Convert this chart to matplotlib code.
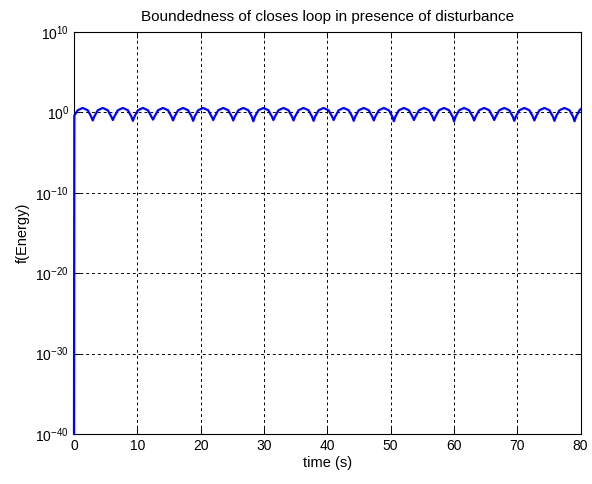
import matplotlib
matplotlib.use('Agg')
import matplotlib.pyplot as plt
import numpy as np
from matplotlib.ticker import FixedLocator, NullLocator, FuncFormatter

plt.rcParams['font.family'] = ['Liberation Sans', 'DejaVu Sans']
plt.rcParams['mathtext.fontset'] = 'custom'
plt.rcParams['mathtext.rm'] = 'Liberation Sans'

# sample times (s), one row per oscillation
time_s = [
    0.00, 0.05, 0.59, 1.37, 2.16, 2.71,
    2.96, 3.21, 3.76, 4.54, 5.33, 5.88,
    6.13, 6.38, 6.93, 7.71, 8.50, 9.05,
    9.30, 9.55, 10.10, 10.88, 11.67, 12.22,
    12.47, 12.72, 13.27, 14.05, 14.84, 15.39,
    15.64, 15.89, 16.44, 17.22, 18.01, 18.56,
    18.81, 19.06, 19.61, 20.39, 21.18, 21.73,
    21.98, 22.23, 22.78, 23.56, 24.35, 24.90,
    25.15, 25.40, 25.95, 26.73, 27.52, 28.07,
    28.32, 28.57, 29.12, 29.90, 30.69, 31.24,
    31.49, 31.74, 32.29, 33.07, 33.86, 34.41,
    34.66, 34.91, 35.46, 36.24, 37.03, 37.58,
    37.83, 38.08, 38.63, 39.41, 40.20, 40.75,
    41.00, 41.25, 41.80, 42.58, 43.37, 43.92,
    44.17, 44.42, 44.97, 45.75, 46.54, 47.09,
    47.34, 47.59, 48.14, 48.92, 49.71, 50.26,
    50.51, 50.76, 51.31, 52.09, 52.88, 53.43,
    53.68, 53.93, 54.48, 55.26, 56.05, 56.60,
    56.85, 57.10, 57.65, 58.43, 59.22, 59.77,
    60.02, 60.27, 60.82, 61.60, 62.39, 62.94,
    63.19, 63.44, 63.99, 64.77, 65.56, 66.11,
    66.36, 66.61, 67.16, 67.94, 68.73, 69.28,
    69.53, 69.78, 70.33, 71.11, 71.90, 72.45,
    72.70, 72.95, 73.50, 74.28, 75.07, 75.62,
    75.87, 76.12, 76.67, 77.45, 78.24, 78.79,
    79.04, 79.29, 79.84, 80.00,
]

# log10 of the energy function at those times
log_energy = [
    -40.0, -0.40, 0.27, 0.55, 0.27, -0.51,
    -1.00, -0.51, 0.27, 0.55, 0.27, -0.51,
    -0.95, -0.51, 0.27, 0.55, 0.27, -0.51,
    -1.05, -0.51, 0.27, 0.55, 0.27, -0.51,
    -0.90, -0.51, 0.27, 0.55, 0.27, -0.51,
    -1.00, -0.51, 0.27, 0.55, 0.27, -0.51,
    -1.05, -0.51, 0.27, 0.55, 0.27, -0.51,
    -0.95, -0.51, 0.27, 0.55, 0.27, -0.51,
    -1.00, -0.51, 0.27, 0.55, 0.27, -0.51,
    -1.10, -0.51, 0.27, 0.55, 0.27, -0.51,
    -0.95, -0.51, 0.27, 0.55, 0.27, -0.51,
    -1.00, -0.51, 0.27, 0.55, 0.27, -0.51,
    -1.05, -0.51, 0.27, 0.55, 0.27, -0.51,
    -0.95, -0.51, 0.27, 0.55, 0.27, -0.51,
    -1.05, -0.51, 0.27, 0.55, 0.27, -0.51,
    -1.00, -0.51, 0.27, 0.55, 0.27, -0.51,
    -1.10, -0.51, 0.27, 0.55, 0.27, -0.51,
    -0.95, -0.51, 0.27, 0.55, 0.27, -0.51,
    -1.00, -0.51, 0.27, 0.55, 0.27, -0.51,
    -1.10, -0.51, 0.27, 0.55, 0.27, -0.51,
    -1.00, -0.51, 0.27, 0.55, 0.27, -0.51,
    -0.95, -0.51, 0.27, 0.55, 0.27, -0.51,
    -1.05, -0.51, 0.27, 0.55, 0.27, -0.51,
    -1.00, -0.51, 0.27, 0.55, 0.27, -0.51,
    -1.05, -0.51, 0.27, 0.55, 0.27, -0.51,
    -1.10, -0.51, 0.27, 0.40,
]

x_ticks = [0, 10, 20, 30, 40, 50, 60, 70, 80]
y_decades = [-40, -30, -20, -10, 0, 10]

energy = 10.0 ** np.array(log_energy)

fig = plt.figure(figsize=(5.92, 4.84), dpi=100)
ax = fig.add_axes([74 / 592, 1 - 434 / 484, (580.6 - 74) / 592, (434 - 32) / 484])

# drawn over the left spine so the initial jump stays visible
ax.semilogy(time_s, energy, color=(0, 0, 1), lw=1.6, clip_on=False, zorder=5)

ax.set_xlim(0, 80)
ax.set_ylim(1e-40, 1e10)
ax.xaxis.set_major_locator(FixedLocator(x_ticks))
ax.yaxis.set_major_locator(FixedLocator([10.0 ** d for d in y_decades]))
ax.yaxis.set_minor_locator(NullLocator())
ax.yaxis.set_major_formatter(FuncFormatter(
    lambda v, p: r'$\mathregular{10^{%d}}$' % round(np.log10(v))))

ax.grid(True, color='k', linestyle=(0, (3, 3)), linewidth=0.7)
ax.tick_params(direction='in', top=True, right=True, length=4,
               labelsize=10, width=0.7)
for s in ax.spines.values():
    s.set_linewidth(0.8)

ax.set_title('Boundedness of closes loop in presence of disturbance',
             fontsize=11, pad=8)
ax.set_xlabel('time (s)', fontsize=10.5, labelpad=2)
ax.set_ylabel('f(Energy)', fontsize=10.5, labelpad=4)

fig.savefig('out.png', dpi=100)
